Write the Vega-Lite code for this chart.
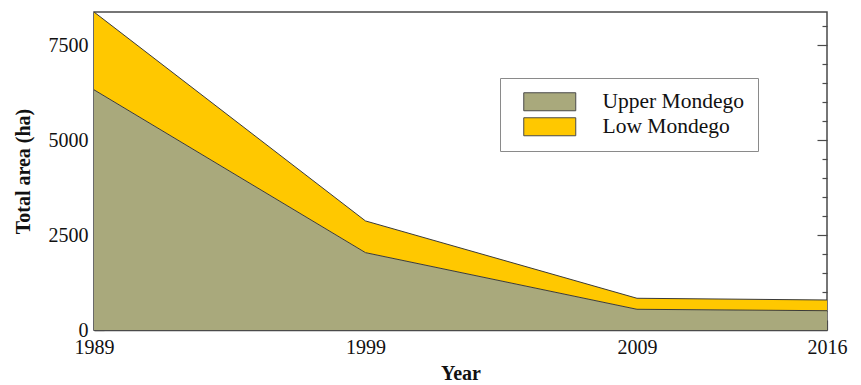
{
  "$schema": "https://vega.github.io/schema/vega-lite/v6.json",
  "autosize": "none",
  "width": 733,
  "height": 318,
  "padding": {"left": 94, "top": 12, "right": 34, "bottom": 55},
  "background": "white",
  "config": {
    "font": "Liberation Serif",
    "view": {"stroke": "#4a4a4a", "strokeWidth": 1.5},
    "axis": {
      "labelFont": "Liberation Serif",
      "labelFontSize": 20,
      "labelColor": "#111",
      "titleFont": "Liberation Serif",
      "titleFontSize": 20,
      "titleFontWeight": "bold",
      "titleColor": "#111",
      "domainColor": "#4a4a4a",
      "domainWidth": 1.5,
      "tickColor": "#4a4a4a",
      "tickWidth": 1.2,
      "grid": false
    }
  },
  "data": {
    "values": [
      {"year": 1989, "region": "Upper Mondego", "area": 6322},
      {"year": 1989, "region": "Low Mondego", "area": 2048},
      {"year": 1999, "region": "Upper Mondego", "area": 2036},
      {"year": 1999, "region": "Low Mondego", "area": 835},
      {"year": 2009, "region": "Upper Mondego", "area": 545},
      {"year": 2009, "region": "Low Mondego", "area": 290},
      {"year": 2016, "region": "Upper Mondego", "area": 508},
      {"year": 2016, "region": "Low Mondego", "area": 282}
    ]
  },
  "resolve": {"axis": {"y": "independent", "x": "independent"}},
  "layer": [
    {
      "mark": {"type": "area", "opacity": 1},
      "encoding": {
        "x": {
          "field": "year",
          "type": "quantitative",
          "scale": {"domain": [1989, 2016], "nice": false, "zero": false},
          "axis": {
            "title": "Year",
            "values": [1989, 1999, 2009, 2016],
            "format": "d",
            "tickSize": -10,
            "labelPadding": 17,
            "titlePadding": 6,
            "labelFlush": false
          }
        },
        "y": {
          "field": "area",
          "type": "quantitative",
          "stack": "zero",
          "scale": {"domain": [0, 8370], "nice": false},
          "axis": {
            "title": "Total area (ha)",
            "values": [0, 500, 1000, 1500, 2000, 2500, 3000, 3500, 4000, 4500, 5000, 5500, 6000, 6500, 7000, 7500, 8000],
            "labelExpr": "datum.value % 2500 === 0 ? datum.label : ''",
            "format": "d",
            "labelOverlap": false,
            "tickSize": {"condition": {"test": "datum.value % 2500 === 0", "value": -10}, "value": -5},
            "labelPadding": 16,
            "titlePadding": 15,
            "labelFlush": false
          }
        },
        "color": {
          "field": "region",
          "type": "nominal",
          "sort": ["Upper Mondego", "Low Mondego"],
          "scale": {"domain": ["Upper Mondego", "Low Mondego"], "range": ["#a9a97c", "#ffc800"]},
          "legend": {
            "title": null,
            "orient": "none",
            "legendX": 406,
            "legendY": 66,
            "direction": "vertical",
            "strokeColor": "#8a8a8a",
            "fillColor": "white",
            "padding": 13,
            "symbolType": "M-2.6,-0.9H2.6V0.9H-2.6Z",
            "symbolSize": 400,
            "symbolOffset": 26,
            "symbolStrokeColor": "#4a4a4a",
            "symbolStrokeWidth": 1,
            "symbolOpacity": 1,
            "labelOffset": 42,
            "labelFont": "Liberation Serif",
            "labelFontSize": 21.5,
            "labelColor": "#111",
            "rowPadding": 2
          }
        }
      }
    },
    {
      "mark": {"type": "line", "color": "#3a3a3a", "strokeWidth": 1},
      "encoding": {
        "x": {"field": "year", "type": "quantitative", "axis": null},
        "y": {
          "field": "area",
          "type": "quantitative",
          "stack": "zero",
          "axis": {
            "orient": "right",
            "title": null,
            "labels": false,
            "domain": false,
            "values": [500, 1000, 1500, 2000, 2500, 3000, 3500, 4000, 4500, 5000, 5500, 6000, 6500, 7000, 7500, 8000],
            "tickSize": {"condition": {"test": "datum.value % 2500 === 0", "value": -10}, "value": -5}
          }
        },
        "detail": {"field": "region", "type": "nominal"}
      }
    }
  ]
}
